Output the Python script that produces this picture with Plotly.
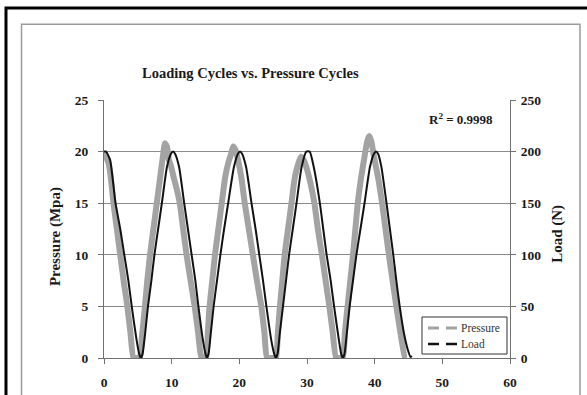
import plotly.graph_objects as go

# ---- data ----
load_x = [0, 0.3, 0.9, 1.7, 2.4, 3.0, 3.6, 4.1, 4.8, 5.2, 5.45, 5.7, 6.1, 6.5, 7.0, 7.45, 8.0, 8.55, 9.3, 9.9,
          10.2, 10.5, 11.1, 11.85, 12.4, 12.95, 13.5, 13.95, 14.6, 15.0, 15.2, 15.45, 15.8, 16.2, 16.7, 17.2,
          17.75, 18.35, 19.2, 19.8, 20.1, 20.4, 21.0, 21.8, 22.4, 22.95, 23.5, 24.0, 24.7, 25.15, 25.4, 25.65,
          26.0, 26.45, 26.9, 27.35, 27.9, 28.45, 29.2, 29.9, 30.4, 31.0, 31.9, 32.4, 32.9, 33.5, 34.0, 34.7,
          35.05, 35.3, 35.55, 35.9, 36.3, 36.8, 37.3, 37.9, 38.5, 39.3, 39.9, 40.2, 40.5, 41.0, 41.75, 42.25,
          42.75, 43.2, 43.7, 44.3, 44.9, 45.3, 45.5]
load_n = [200, 200, 192, 150, 125, 100, 75, 50, 18, 4, 0, 4, 25, 50, 75, 100, 125, 150, 185, 198,
          200, 198, 185, 150, 125, 100, 75, 50, 18, 4, 0, 4, 25, 50, 75, 100,
          125, 150, 185, 198, 200, 198, 185, 150, 125, 100, 75, 50, 18, 4, 0, 4,
          25, 50, 75, 100, 125, 150, 185, 200, 200, 185, 150, 125, 100, 75, 50, 18,
          4, 0, 4, 25, 50, 75, 100, 125, 150, 185, 198, 200, 198, 185, 150, 125,
          100, 75, 50, 25, 8, 1, 2]

pres_x = [0, 0.3, 0.7, 1.0, 1.4, 1.9, 2.4, 2.9, 3.45, 3.9, 4.35, 4.8, 5.3, 5.6, 6.05, 6.4, 6.8, 7.3, 7.8, 8.3,
          8.7, 9.0, 9.3, 9.6, 9.9, 10.3, 10.7, 11.2, 11.7, 12.2, 12.8, 13.4, 13.9, 14.4, 14.8, 15.1, 15.35,
          15.6, 16.0, 16.4, 16.9, 17.4, 17.9, 18.4, 18.8, 19.1, 19.4, 19.8, 20.3, 20.8, 21.4, 22.0, 22.6,
          23.25, 23.7, 24.1, 24.8, 25.4, 25.7, 26.0, 26.35, 26.7, 27.2, 27.7, 28.2, 28.7, 29.1, 29.5, 29.9,
          30.5, 31.1, 31.6, 32.2, 32.75, 33.3, 33.8, 34.3, 34.8, 35.3, 35.6, 36.0, 36.4, 36.8, 37.15, 37.5,
          38.0, 38.5, 38.9, 39.2, 39.5, 39.9, 40.5, 41.1, 41.6, 42.1, 42.65, 43.2, 43.8, 44.5, 44.8]
pres_mpa = [20, 19.5, 18.8, 17.5, 15, 12.5, 10, 7.5, 5, 2.5, 0, 0, 0, 2, 5, 7.5, 10, 12.5, 15, 17.5,
            19.5, 20.8, 20.5, 19.2, 18.6, 17.5, 16.5, 15, 12.5, 10, 7.5, 5, 2.5, 0, 0, 0, 2.5,
            5, 7.5, 10, 12.5, 15, 17.5, 19, 19.8, 20.5, 20.2, 19.2, 17.5, 15, 12.5, 10, 7.5,
            5, 2.5, 0, 0, 0, 2.5, 5, 7.5, 10, 12.5, 15, 17.5, 18.8, 19.5, 19.2, 18.5,
            17, 15, 12.5, 10, 7.5, 5, 2.5, 0, 0, 0, 2.5, 5, 7.5, 10, 12.5, 15,
            17.5, 19.5, 21, 21.5, 21, 19.5, 17.5, 15, 12.5, 10, 7.5, 5, 2.5, 0, 0]

x_ticks = [0, 10, 20, 30, 40, 50, 60]
y_ticks = [0, 5, 10, 15, 20, 25]
y2_ticks = [0, 50, 100, 150, 200, 250]

series_names = ["Pressure", "Load"]
title_text = "Loading Cycles vs. Pressure Cycles"
r2_text = "R<sup>2</sup> = 0.9998"

FONT = "Liberation Serif, Times New Roman, serif"
GRAY = "#a3a3a3"
BLACK = "#111111"
series_colors = [GRAY, BLACK]
legend_widths = [3, 2.5]

fig = go.Figure()
fig.add_trace(go.Scatter(x=pres_x, y=pres_mpa, mode="lines", name=series_names[0],
                         line=dict(color=GRAY, width=6, shape="spline", smoothing=0.5),
                         showlegend=False))
fig.add_trace(go.Scatter(x=load_x, y=load_n, mode="lines", name=series_names[1], yaxis="y2",
                         line=dict(color=BLACK, width=2, shape="spline", smoothing=0.5),
                         showlegend=False))

axis_col = "#707070"
tickfont = dict(family=FONT, size=13.5, color="#1a1a1a", weight="bold")

fig.update_layout(
    width=587, height=395,
    margin=dict(l=104, r=77, t=100, b=37, autoexpand=False),
    paper_bgcolor="white", plot_bgcolor="white",
    font=dict(family=FONT, color="#1a1a1a"),
    xaxis=dict(range=[0, 60], tickvals=x_ticks, ticks="outside", ticklen=5, tickcolor=axis_col,
               showline=True, linecolor=axis_col, linewidth=1, showgrid=False, zeroline=False,
               tickfont=tickfont, ticklabelstandoff=7, automargin=False),
    yaxis=dict(range=[0, 25], tickvals=y_ticks, ticks="outside", ticklen=5, tickcolor=axis_col,
               showline=True, linecolor=axis_col, linewidth=1, showgrid=True, gridcolor="#8a8a8a",
               gridwidth=1, zeroline=False, tickfont=tickfont, ticklabelstandoff=7, automargin=False),
    yaxis2=dict(range=[0, 250], tickvals=y2_ticks, overlaying="y", side="right", ticks="outside",
                ticklen=5, tickcolor=axis_col, showline=True, linecolor=axis_col, linewidth=1,
                showgrid=False, zeroline=False, tickfont=tickfont, ticklabelstandoff=2,
                automargin=False),
    showlegend=False,
)

def px_x(p):
    return (p - 104) / 406.0

def px_y(p):
    return (358 - p) / 258.0

fig.add_annotation(text=title_text, xref="paper", yref="paper", x=0.362, y=1.105,
                   xanchor="center", yanchor="middle", showarrow=False,
                   font=dict(family=FONT, size=14.5, weight="bold", color="#1a1a1a"))
fig.add_annotation(text=r2_text, xref="paper", yref="paper", x=0.963, y=0.926,
                   xanchor="right", yanchor="middle", showarrow=False,
                   font=dict(family=FONT, size=13, weight="bold", color="#1a1a1a"))
fig.add_annotation(text="Pressure (Mpa)", xref="paper", yref="paper", x=-0.118, y=0.469,
                   xanchor="center", yanchor="middle", textangle=-90, showarrow=False,
                   font=dict(family=FONT, size=15, weight="bold", color="#1a1a1a"))
fig.add_annotation(text="Load (N)", xref="paper", yref="paper", x=1.118, y=0.481,
                   xanchor="center", yanchor="middle", textangle=-90, showarrow=False,
                   font=dict(family=FONT, size=15, weight="bold", color="#1a1a1a"))

# legend box (drawn manually to match the original's compact layout)
fig.add_shape(type="rect", xref="paper", yref="paper", x0=px_x(422), x1=px_x(507),
              y0=px_y(354), y1=px_y(317), line=dict(color="#333333", width=1),
              fillcolor="white", layer="above")
for i, name in enumerate(series_names):
    yy = px_y(328 + 16 * i)
    fig.add_shape(type="line", xref="paper", yref="paper", x0=px_x(428), x1=px_x(458),
                  y0=yy, y1=yy, layer="above",
                  line=dict(color=series_colors[i], width=legend_widths[i], dash="11px,7px"))
    fig.add_annotation(text=name, xref="paper", yref="paper", x=px_x(459), y=yy,
                       xanchor="left", yanchor="middle", showarrow=False,
                       font=dict(family=FONT, size=11.5, color="#333333"))

# frames
fig.add_shape(type="rect", xref="paper", yref="paper", x0=-0.2032, y0=-0.3, x1=1.1724, y1=1.2934,
              line=dict(color="#9a9a9a", width=1.5), layer="below")
fig.add_shape(type="rect", xref="paper", yref="paper", x0=-0.2414, y0=-0.3, x1=1.25, y1=1.3566,
              line=dict(color="black", width=3), layer="below")

fig.write_html("out.html")
